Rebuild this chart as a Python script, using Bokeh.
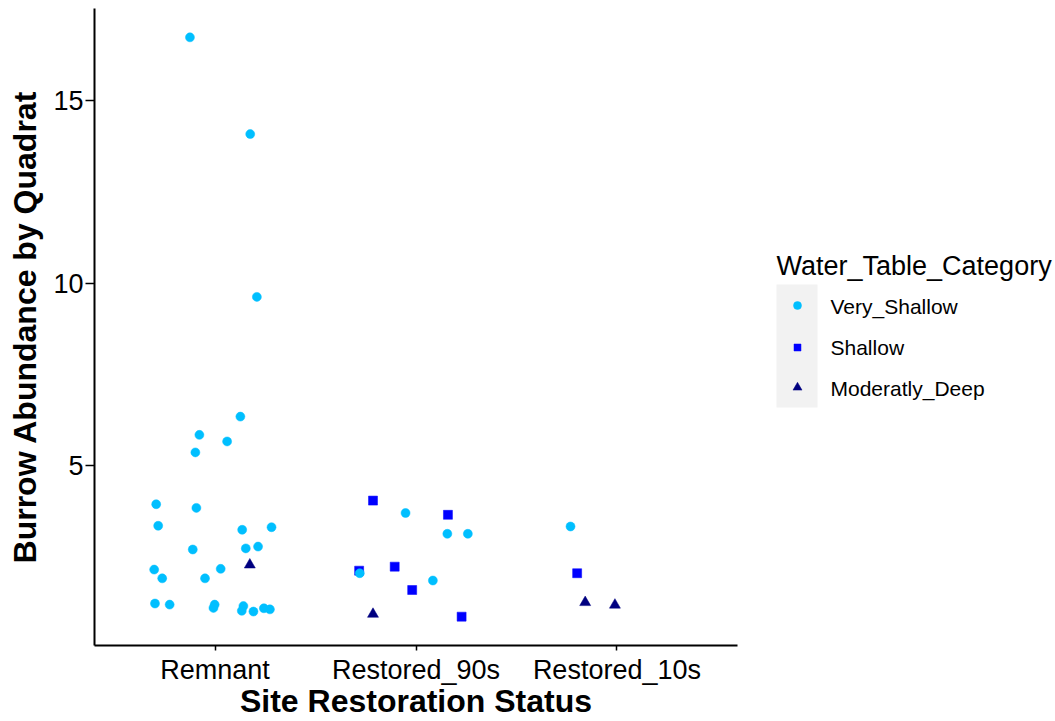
from bokeh.plotting import figure
from bokeh.models import Range1d, FixedTicker, ColumnDataSource
from bokeh.layouts import row
from bokeh.core.properties import value
from bokeh.embed import file_html
from bokeh.resources import INLINE

categories = ["Remnant", "Restored_90s", "Restored_10s"]
water_levels = ["Very_Shallow", "Shallow", "Moderatly_Deep"]
level_colors = ["#00BFFF", "#0000FF", "#000080"]
level_markers = ["circle", "square", "triangle"]
y_ticks = [5, 10, 15]

# Remnant, Very_Shallow
rem_vs_jitter = [-0.125, 0.175, 0.208, 0.126, -0.078, 0.060, -0.098, -0.293, -0.093, -0.283,
                 0.135, 0.281, -0.111, 0.153, 0.214, -0.303, 0.028, -0.263, -0.050, -0.299,
                 -0.226, -0.002, -0.008, 0.141, 0.133, 0.191, 0.243, 0.273]
rem_vs_burrows = [16.73, 14.08, 9.62, 6.34, 5.84, 5.66, 5.36, 3.94, 3.84, 3.35,
                  3.24, 3.31, 2.70, 2.73, 2.78, 2.15, 2.17, 1.91, 1.91, 1.22,
                  1.19, 1.19, 1.10, 1.15, 1.02, 1.00, 1.09, 1.06]
# Remnant, Moderatly_Deep
rem_md_jitter = [0.173]
rem_md_burrows = [2.28]
# Restored_90s, Shallow
r90_s_jitter = [-0.214, 0.159, -0.283, -0.106, -0.019, 0.227]
r90_s_burrows = [4.04, 3.65, 2.12, 2.23, 1.59, 0.86]
# Restored_90s, Very_Shallow
r90_vs_jitter = [-0.052, 0.156, 0.258, -0.280, 0.084]
r90_vs_burrows = [3.70, 3.13, 3.13, 2.05, 1.85]
# Restored_90s, Moderatly_Deep
r90_md_jitter = [-0.214]
r90_md_burrows = [0.93]
# Restored_10s
r10_vs_jitter = [-0.231]
r10_vs_burrows = [3.33]
r10_s_jitter = [-0.198]
r10_s_burrows = [2.05]
r10_md_jitter = [-0.158, -0.010]
r10_md_burrows = [1.25, 1.18]

groups = [
    ("Restored_90s", "Shallow", r90_s_jitter, r90_s_burrows),
    ("Restored_10s", "Shallow", r10_s_jitter, r10_s_burrows),
    ("Remnant", "Very_Shallow", rem_vs_jitter, rem_vs_burrows),
    ("Restored_90s", "Very_Shallow", r90_vs_jitter, r90_vs_burrows),
    ("Restored_10s", "Very_Shallow", r10_vs_jitter, r10_vs_burrows),
    ("Remnant", "Moderatly_Deep", rem_md_jitter, rem_md_burrows),
    ("Restored_90s", "Moderatly_Deep", r90_md_jitter, r90_md_burrows),
    ("Restored_10s", "Moderatly_Deep", r10_md_jitter, r10_md_burrows),
]

FONT = "Liberation Sans"

p = figure(width=747, height=721, output_backend="svg", toolbar_location=None,
           x_range=Range1d(0.4, 3.6), y_range=Range1d(0.07, 17.52),
           min_border_left=94, min_border_right=10, min_border_top=8, min_border_bottom=76)
p.outline_line_color = None
p.grid.visible = False
p.background_fill_color = "white"
p.border_fill_color = "white"

marker_size = {"circle": 9, "square": 9, "triangle": 11}
for cat, lvl, jit, vals in groups:
    i = water_levels.index(lvl)
    xs = [categories.index(cat) + 1 + j for j in jit]
    src = ColumnDataSource(dict(x=xs, y=vals))
    m = level_markers[i]
    p.scatter("x", "y", source=src, marker=m, size=marker_size[m],
              fill_color=level_colors[i], line_color=level_colors[i], line_width=0.5)

p.xaxis.ticker = FixedTicker(ticks=[1, 2, 3])
p.xaxis.major_label_overrides = {k + 1: c for k, c in enumerate(categories)}
p.yaxis.ticker = FixedTicker(ticks=y_ticks)
p.xaxis.axis_label = "Site Restoration Status"
p.yaxis.axis_label = "Burrow Abundance by Quadrat"
for ax in (p.xaxis[0], p.yaxis[0]):
    ax.axis_line_color = "black"
    ax.axis_line_width = 2
    ax.major_tick_line_color = "black"
    ax.major_tick_line_width = 1.5
    ax.major_tick_in = 0
    ax.minor_tick_line_color = None
    ax.major_label_text_font = FONT
    ax.major_label_text_font_size = "27px"
    ax.major_label_text_color = "black"
    ax.axis_label_text_font = FONT
    ax.axis_label_text_font_size = "32px"
    ax.axis_label_text_font_style = "bold"
    ax.axis_label_text_color = "black"
p.xaxis.major_tick_out = 5
p.yaxis.major_tick_out = 9
p.xaxis.major_label_standoff = 4
p.xaxis.axis_label_standoff = -5
p.yaxis.major_label_standoff = 2
p.yaxis.axis_label_standoff = 7

# legend panel (its frame is aligned with the main frame: page rows 8..645)
lg = figure(width=308, height=721, output_backend="svg", toolbar_location=None,
            x_range=Range1d(747, 1055), y_range=Range1d(645, 8),
            x_axis_location=None, y_axis_location=None,
            min_border_left=0, min_border_right=0, min_border_top=8, min_border_bottom=76)
lg.outline_line_color = None
lg.grid.visible = False
lg.background_fill_color = "white"
lg.border_fill_color = "white"

lg.quad(left=[776], right=[817], top=[284], bottom=[407], fill_color="#F2F2F2", line_color=None)
lg.text(x=[776], y=[265], text=["Water_Table_Category"], text_font=value(FONT),
        text_font_size="27px", text_color="black", text_baseline="alphabetic", text_align="left")
key_y = [305, 347, 387]
lab_y = [306, 347, 388]
leg_size = {"circle": 8, "square": 7, "triangle": 9}
for i, lvl in enumerate(water_levels):
    m = level_markers[i]
    lg.scatter(x=[797], y=[key_y[i]], marker=m, size=leg_size[m],
               fill_color=level_colors[i], line_color=level_colors[i], line_width=0.5)
lg.text(x=[830] * 3, y=lab_y, text=water_levels, text_font=value(FONT),
        text_font_size="21px", text_color="black", text_baseline="alphabetic", text_align="left")

layout = row(p, lg)
open("out.html", "w").write(file_html(layout, INLINE))
